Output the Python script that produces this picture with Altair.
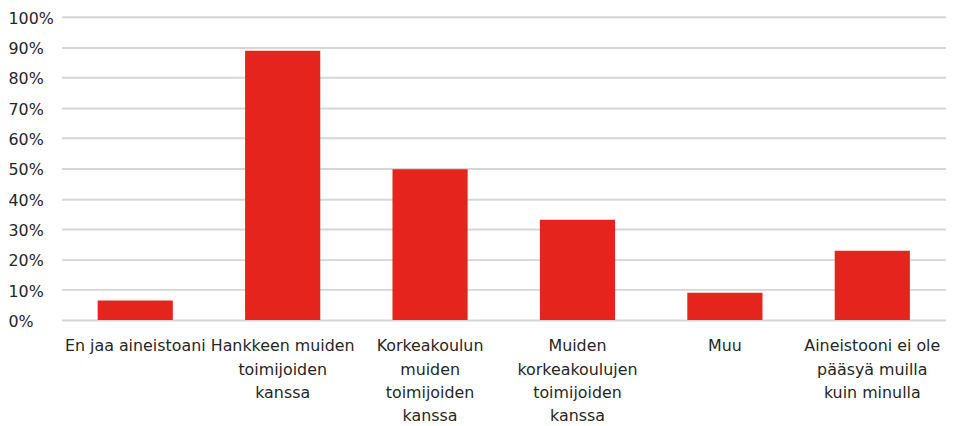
import altair as alt
import pandas as pd

categories = [
    "En jaa aineistoani",
    "Hankkeen muiden|toimijoiden|kanssa",
    "Korkeakoulun|muiden|toimijoiden|kanssa",
    "Muiden|korkeakoulujen|toimijoiden|kanssa",
    "Muu",
    "Aineistooni ei ole|pääsyä muilla|kuin minulla",
]
values = [0.065, 0.888, 0.497, 0.331, 0.090, 0.229]
y_ticks = [0, 0.1, 0.2, 0.3, 0.4, 0.5, 0.6, 0.7, 0.8, 0.9, 1.0]

df = pd.DataFrame({"category": categories, "value": values})

FONT = "DejaVu Sans"

chart = (
    alt.Chart(df)
    .mark_bar(color="#e5251d")
    .encode(
        x=alt.X(
            "category:N",
            sort=None,
            title=None,
            scale=alt.Scale(paddingInner=0.49, paddingOuter=0.245),
            axis=alt.Axis(
                labelAngle=0,
                labelExpr="split(datum.label, '|')",
                labelFont=FONT,
                labelFontSize=16,
                labelColor="#262626",
                labelLineHeight=23.5,
                labelPadding=18,
                labelLimit=200,
                labelOverlap=False,
                ticks=False,
                tickSize=0,
                domain=False,
                grid=False,
            ),
        ),
        y=alt.Y(
            "value:Q",
            title=None,
            scale=alt.Scale(domain=[0, 1]),
            axis=alt.Axis(
                format=".0%",
                values=y_ticks,
                labelFont=FONT,
                labelFontSize=16,
                labelColor="#262626",
                labelAlign="left",
                labelPadding=54,
                labelOffset=1.5,
                ticks=False,
                tickSize=0,
                domain=False,
                gridColor="#d6d6d6",
                gridWidth=2,
            ),
        ),
    )
    .properties(
        width=892,
        height=306,
        autosize=alt.AutoSizeParams(type="none"),
        padding={"left": 54, "top": 7, "right": 0, "bottom": 105},
    )
    .configure_view(stroke=None)
)

chart.save("out.html", embed_options={"renderer": "svg", "actions": False})
